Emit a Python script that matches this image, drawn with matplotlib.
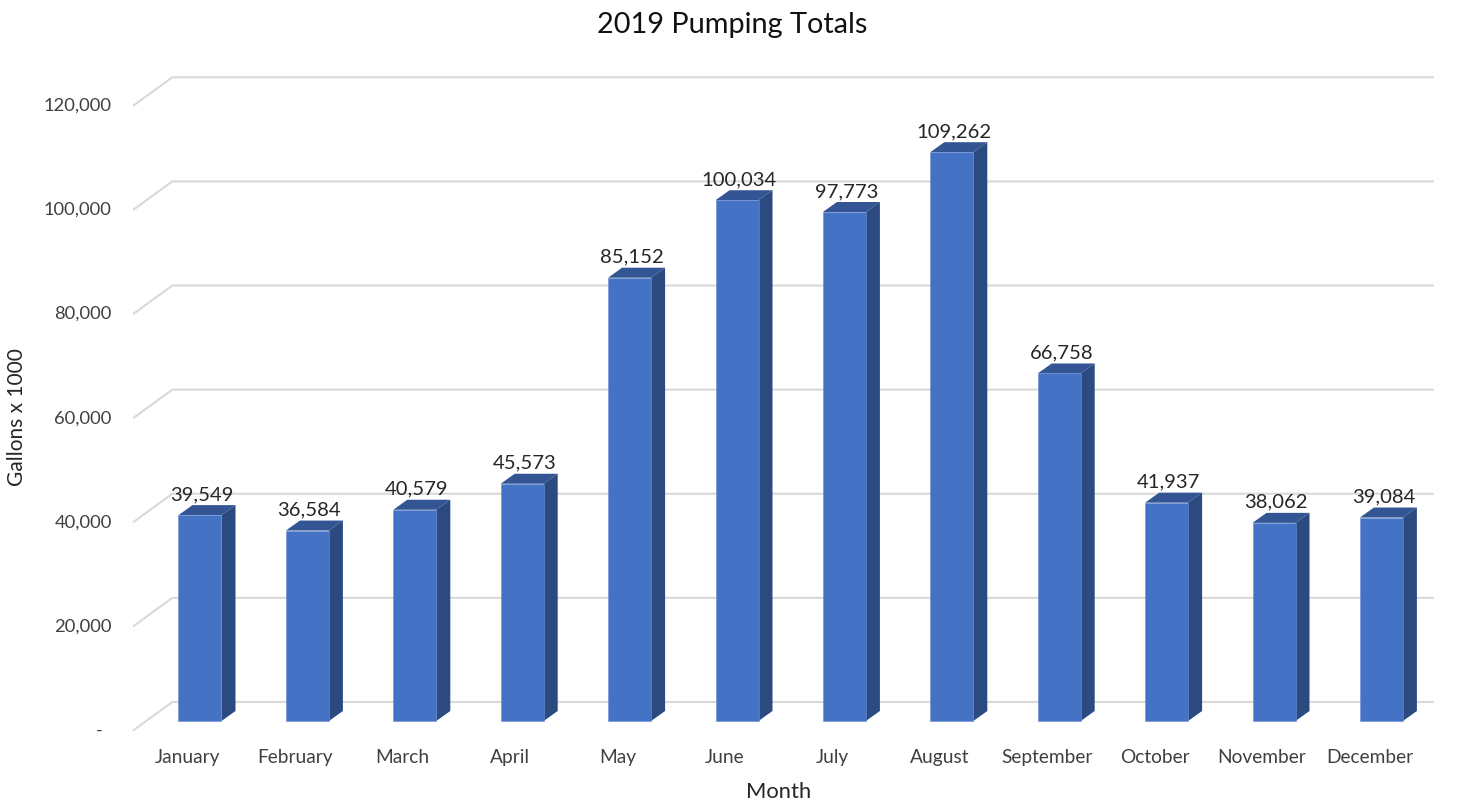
import matplotlib
matplotlib.use('Agg')
import matplotlib.pyplot as plt
from matplotlib.patches import Polygon

plt.rcParams['font.family'] = ['Lato', 'DejaVu Sans']

months = ['January', 'February', 'March', 'April', 'May', 'June', 'July',
          'August', 'September', 'October', 'November', 'December']
pumped = [39549, 36584, 40579, 45573, 85152, 100034, 97773, 109262,
          66758, 41937, 38062, 39084]
y_ticks = [0, 20000, 40000, 60000, 80000, 100000, 120000]
y_tick_labels = ['-', '20,000', '40,000', '60,000', '80,000', '100,000', '120,000']

W, H = 1466, 802
PX = 0.72  # points per pixel at dpi 100

# scale of the front plane of the bars
x_px = 107.4        # pixels per month
x_first = 200.0     # pixel of January's centre
y_zero = 721        # pixel of value 0
y_px = 624.7 / 120000

fig = plt.figure(figsize=(W / 100, H / 100), dpi=100)
ax = fig.add_axes([0, 0, 1, 1])
ax.set_xlim(-x_first / x_px, (W - x_first) / x_px)
ax.set_ylim(-(H - y_zero) / y_px, y_zero / y_px)
ax.set_axis_off()

# fake 3d depth, all in pixels converted to data units
bar_w = 43 / x_px
bar_dx = 14 / x_px
bar_dy = 10 / y_px
wall_dy = 19 / y_px
front_dy = -9 / y_px
grid_left = -0.616
wall_left = -0.258
wall_right = 11.48

for v in y_ticks:
    ax.plot([grid_left, wall_left, wall_right],
            [v + front_dy, v + wall_dy, v + wall_dy],
            color='#D9D9D9', lw=1.5, zorder=1, solid_joinstyle='miter')

for i, v in enumerate(pumped):
    l, r = i - bar_w / 2, i + bar_w / 2
    ax.bar(i, v, width=bar_w, color='#4472C4', edgecolor='#6A8CD0', lw=0.4, zorder=3)
    top = [(l, v), (r, v), (r + bar_dx, v + bar_dy), (l + bar_dx, v + bar_dy)]
    side = [(r, 0), (r + bar_dx, bar_dy), (r + bar_dx, v + bar_dy), (r, v)]
    ax.add_patch(Polygon(top, facecolor='#335593', edgecolor='none', zorder=2))
    ax.add_patch(Polygon(side, facecolor='#2B4A80', edgecolor='none', zorder=2))
    ax.annotate(f'{v:,}', (i, v), xytext=(2 * PX, 20.5 * PX), textcoords='offset points',
                ha='center', va='center', fontsize=14.6, color='#262626', zorder=4)
    ax.annotate(months[i], (i, 0), xytext=(-12 * PX, -36.5 * PX), textcoords='offset points',
                ha='center', va='center', fontsize=13.8, color='#404040')

for v, lab in zip(y_ticks, y_tick_labels):
    xoff = -9 if lab == '-' else 0
    ax.annotate(lab, (grid_left, v + front_dy), xytext=((xoff - 22) * PX, -0.5 * PX),
                textcoords='offset points', ha='right', va='center',
                fontsize=13.2, color='#404040')

fig.text(732 / W, 1 - 25.5 / H, '2019 Pumping Totals', ha='center', va='center',
         fontsize=20.8, color='#111111')
fig.text(779 / W, 1 - 792 / H, 'Month', ha='center', va='center',
         fontsize=15.8, color='#262626')
fig.text(17 / W, 1 - 417 / H, 'Gallons x 1000', ha='center', va='center',
         rotation=90, fontsize=15, color='#262626')

fig.savefig('out.png', dpi=100)
